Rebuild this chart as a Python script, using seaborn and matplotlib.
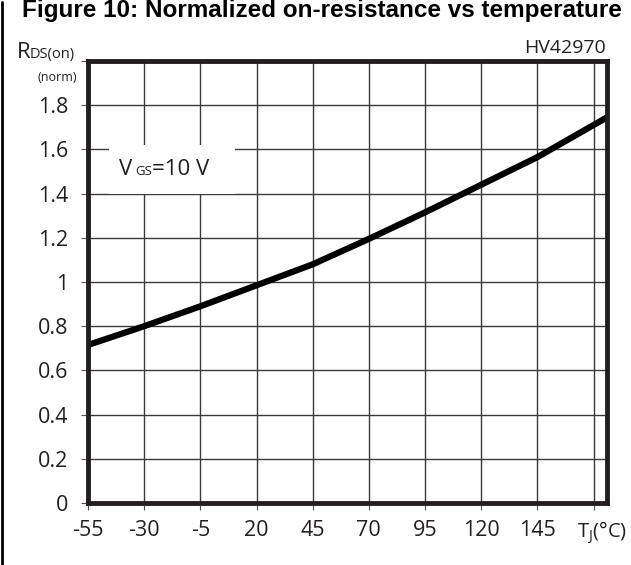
import numpy as np
import pandas as pd
import matplotlib
matplotlib.use('Agg')
import matplotlib.pyplot as plt
import matplotlib.transforms as mtransforms
import seaborn as sns
from matplotlib.patches import Rectangle
from matplotlib.lines import Line2D

# data
temps = [-55, -30, -5, 20, 45, 70, 95, 120, 145, 176]
rds_norm = [0.715, 0.80, 0.89, 0.985, 1.08, 1.195, 1.315, 1.44, 1.565, 1.745]

x_ticks = [-55, -30, -5, 20, 45, 70, 95, 120, 145, 170]
x_labels = ['-55', '-30', '-5', '20', '45', '70', '95', '120', '145', r'T$_\mathregular{J}$(°C)']
y_ticks = [0, 0.2, 0.4, 0.6, 0.8, 1.0, 1.2, 1.4, 1.6, 1.8, 2.0]
y_labels = ['0', '0.2', '0.4', '0.6', '0.8', '1', '1.2', '1.4', '1.6', '1.8', '']

sns.set_style('white')
plt.rcParams['font.family'] = ['Open Sans', 'DejaVu Sans']

W, H = 631, 565
fig = plt.figure(figsize=(W / 100, H / 100), dpi=100)
ax = fig.add_axes([88 / W, 1 - 503 / H, (607 - 88) / W, (503 - 61) / H])

df = pd.DataFrame({'T': temps, 'R': rds_norm})
sns.lineplot(data=df, x='T', y='R', ax=ax, color='black', linewidth=4.5, zorder=5)

ax.set_xlim(-55, 176)
ax.set_ylim(0, 2.0)
ax.set_xticks(x_ticks)
ax.set_xticklabels(x_labels)
ax.set_yticks(y_ticks)
ax.set_yticklabels(y_labels)
ax.set_xlabel('')
ax.set_ylabel('')
ax.grid(True, color='#3a3a3a', linewidth=1.0)
ax.tick_params(axis='both', direction='out', length=5, width=0.8, color='#555555',
               labelsize=15.5, labelcolor='#231f20', left=True, bottom=True)
ax.tick_params(axis='x', pad=7)
ax.tick_params(axis='y', pad=9)
# last label (axis name) sits a little right of its tick
last = ax.get_xticklabels()[-1]
last.set_fontsize(14.5)
last.set_transform(last.get_transform() + mtransforms.ScaledTranslation(8 / 100, 0, fig.dpi_scale_trans))
for s in ax.spines.values():
    s.set_linewidth(3.5)
    s.set_color('#231f20')
    s.set_zorder(6)

# white box behind the V_GS annotation
ax.add_patch(Rectangle((-45.7, 1.40), 56, 0.22, facecolor='white', edgecolor='none', zorder=3))

def fx(px):
    return px / W

def fy(py):
    return 1 - py / H

fig.text(fx(119), fy(175), 'V', fontsize=16, color='#231f20', va='baseline')
fig.text(fx(135), fy(175), 'GS', fontsize=9.5, color='#231f20', va='baseline')
fig.text(fx(152), fy(175), '=10 V', fontsize=16, color='#231f20', va='baseline')

fig.text(fx(17), fy(58), 'R', fontsize=16, color='#231f20', va='baseline')
fig.text(fx(30), fy(58), 'DS(on)', fontsize=10.5, color='#231f20', va='baseline')
fig.text(fx(37), fy(81), '(norm)', fontsize=9, color='#231f20', va='baseline')
fig.text(fx(606), fy(53), 'HV42970', fontsize=14, color='#231f20', va='baseline', ha='right')

fig.text(fx(322), fy(11), 'Figure 10: Normalized on-resistance vs temperature',
         fontsize=17.5, fontweight='bold', family=['Liberation Sans', 'DejaVu Sans'],
         ha='center', va='center', color='black')

fig.add_artist(Line2D([fx(2), fx(2)], [0, fy(2)], color='black', linewidth=2))

fig.savefig('out.png', dpi=100)
